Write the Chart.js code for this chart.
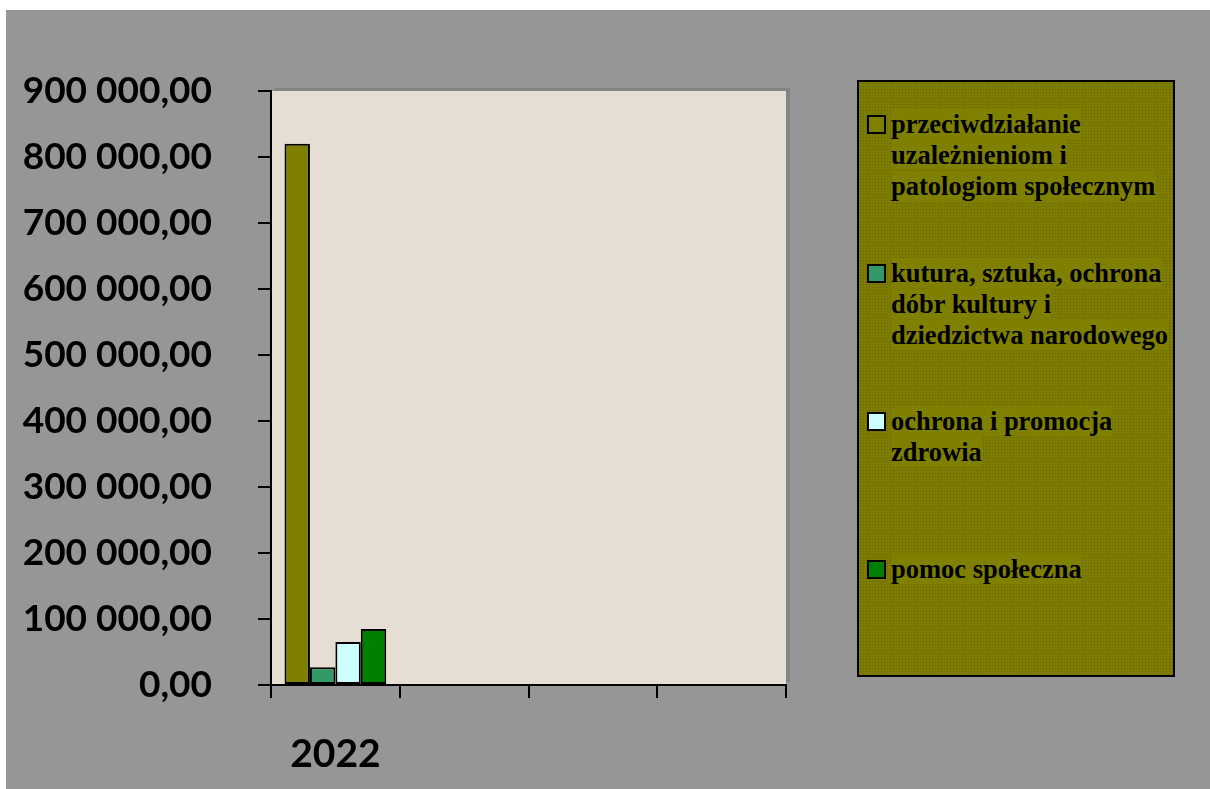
<!DOCTYPE html>
<html>
<head>
<meta charset="utf-8">
<script src="https://cdn.jsdelivr.net/npm/chart.js@4"></script>
<style>
  body { margin: 0; background: #fff; }
  #wrap { position: relative; width: 1210px; height: 789px; }
  #legend {
    position: absolute; left: 857px; top: 80px; width: 314px; height: 593px;
    border: 2px solid #000;
    background-color: #7c7c00;
    background-image: radial-gradient(#666600 0.6px, transparent 0.8px);
    background-size: 3px 3px;
    font-family: "Liberation Serif", "Times New Roman", serif;
    font-weight: bold; font-size: 26.5px; line-height: 31px; color: #000;
  }
  .item { position: absolute; left: 8px; }
  .box { position: absolute; left: 0; top: 6px; width: 15px; height: 15px; border: 2px solid #000; }
  .txt { position: absolute; left: 24px; white-space: pre; }
  .txt span { background: #808000; }
</style>
</head>
<body>
<div id="wrap">
  <canvas id="chartBar" width="1210" height="789"></canvas>
  <div id="legend"></div>
</div>
<script>
const categories = ['2022', '', '', ''];
const seriesNames = [
  'przeciwdziałanie\nuzależnieniom i\npatologiom społecznym',
  'kutura, sztuka, ochrona\ndóbr kultury i\ndziedzictwa narodowego',
  'ochrona i promocja\nzdrowia',
  'pomoc społeczna',
];
const przeciwdzialanie = [820000, null, null, null];
const kultura = [27000, null, null, null];
const zdrowie = [65000, null, null, null];
const pomoc = [85000, null, null, null];
const colors = ['#808000', '#339966', '#ccffff', '#008000'];

function formatPL(v) {
  const s = Math.round(v).toString().replace(/\B(?=(\d{3})+(?!\d))/g, ' ');
  return s + ',00';
}

const background = {
  id: 'background',
  beforeDraw(chart) {
    const ctx = chart.ctx;
    const a = chart.chartArea;
    ctx.save();
    ctx.fillStyle = '#969696';
    ctx.fillRect(6, 10, chart.width - 6, chart.height - 10);
    ctx.fillStyle = '#848484';
    ctx.fillRect(a.left + 3, a.top - 3, a.right - a.left + 1, a.bottom - a.top);
    ctx.fillStyle = '#e6ded2';
    ctx.fillRect(a.left, a.top, a.right - a.left, a.bottom - a.top);
    ctx.restore();
  },
};

const dataBar = {
  labels: categories,
  datasets: [przeciwdzialanie, kultura, zdrowie, pomoc].map((d, i) => ({
    label: seriesNames[i],
    data: d,
    backgroundColor: colors[i],
    borderColor: '#000',
    borderWidth: 2,
    borderSkipped: false,
    barPercentage: 1,
    categoryPercentage: 0.79,
  })),
};

const configBar = {
  type: 'bar',
  data: dataBar,
  options: {
    responsive: false,
    animation: false,
    layout: { padding: { left: 0, top: 91, right: 424, bottom: 0 } },
    plugins: { legend: { display: false }, tooltip: { enabled: false } },
    scales: {
      x: {
        afterFit: s => { s.height = 104; },
        grid: { drawOnChartArea: false, color: '#000', lineWidth: 2, tickLength: 13 },
        border: { color: '#000', width: 2 },
        ticks: { color: '#000', font: { family: 'Lato', weight: 'bold', size: 39 }, padding: 33, maxRotation: 0 },
      },
      y: {
        min: 0,
        max: 900000,
        afterFit: s => { s.width = 271; },
        grid: { drawOnChartArea: false, color: '#000', lineWidth: 2, tickLength: 13 },
        border: { color: '#000', width: 2 },
        ticks: {
          color: '#000',
          font: { family: 'Lato', weight: 'bold', size: 37 },
          padding: 46,
          stepSize: 100000,
          callback: v => formatPL(v),
        },
      },
    },
  },
  plugins: [background],
};
const chartBar = new Chart(document.getElementById('chartBar'), configBar);

// legend drawn as html next to the plot
const itemTops = [27, 176, 324, 472];
const legend = document.getElementById('legend');
chartBar.data.datasets.forEach((ds, i) => {
  const item = document.createElement('div');
  item.className = 'item';
  item.style.top = itemTops[i] + 'px';
  const box = document.createElement('div');
  box.className = 'box';
  box.style.background = ds.backgroundColor;
  const txt = document.createElement('div');
  txt.className = 'txt';
  txt.innerHTML = ds.label.split('\n').map(l => '<span>' + l + '</span>').join('\n');
  item.appendChild(box);
  item.appendChild(txt);
  legend.appendChild(item);
});
</script>
</body>
</html>
